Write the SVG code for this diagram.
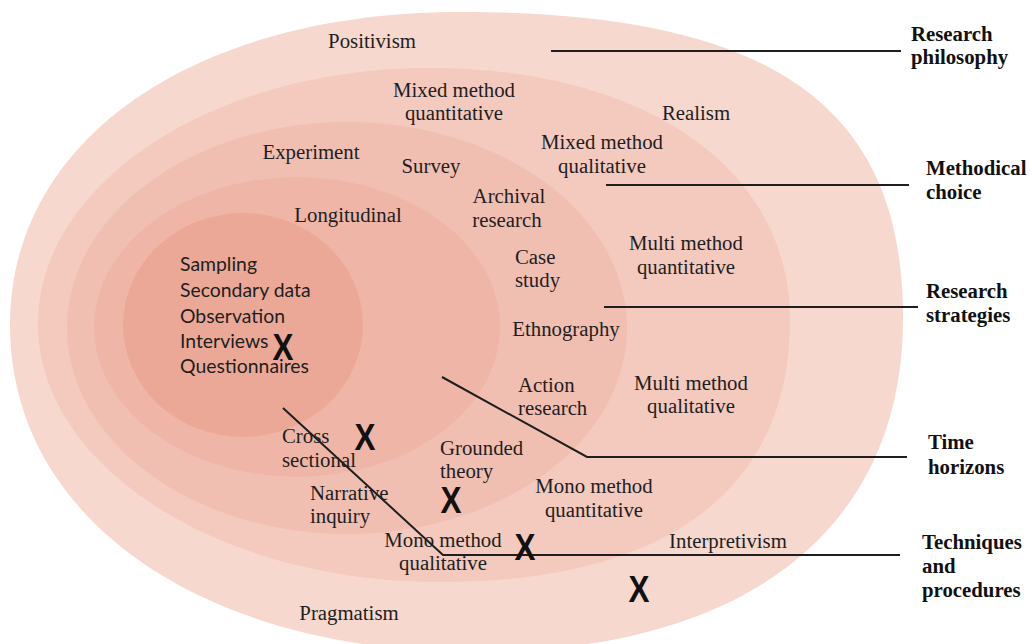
<svg xmlns="http://www.w3.org/2000/svg" width="1032" height="644" viewBox="0 0 1032 644">
<style>
.s{font-family:"Liberation Serif","Times New Roman",serif;font-size:20.8px;fill:#1e1e1e}
.c{text-anchor:middle}
.b{font-family:"Liberation Serif","Times New Roman",serif;font-size:20.8px;font-weight:bold;fill:#111}
.k{font-family:"Lato","Open Sans",sans-serif;font-size:19.4px;fill:#1e1e1e}
.x{font-family:"Liberation Sans",Arial,sans-serif;font-size:37px;font-weight:bold;fill:#111;text-anchor:middle}
.ln{fill:none;stroke:#1e1e1e;stroke-width:2}
</style>
<rect width="1032" height="644" fill="#ffffff"/>
<g id="layers">
<path id="philosophy" fill="#F6D8CE" d="M10,325 C10,136 199,12 460,12 C770,12 903,104 903,318 C903,530 745,652 475,652 C205,652 10,521 10,325 Z"/>
<path id="choice" fill="#F4C9BE" d="M38,324 C38,183 213,68 430,68 C646,68 790,169 790,320 C790,490 667,582 440,582 C218,582 38,466 38,324 Z"/>
<ellipse id="strategies" cx="347" cy="328" rx="280" ry="206" fill="#F1BFB2"/>
<ellipse id="horizons" cx="297" cy="327" rx="203" ry="150" fill="#EFB6A8"/>
<ellipse id="techniques" cx="243" cy="325" rx="120" ry="112" fill="#ECA897"/>
</g>
<g id="connectors">
<line class="ln" x1="551" y1="51" x2="901" y2="51"/>
<line class="ln" x1="606" y1="185" x2="909" y2="185"/>
<line class="ln" x1="604" y1="307" x2="918" y2="307"/>
<polyline class="ln" points="442,377 587,457 907,457"/>
<polyline class="ln" points="283,408 443,555 900,555"/>
</g>
<g id="philosophy-labels">
<text class="s c" x="372" y="48">Positivism</text>
<text class="s c" x="696" y="120">Realism</text>
<text class="s c" x="728" y="548">Interpretivism</text>
<text class="s c" x="349" y="620">Pragmatism</text>
</g>
<g id="choice-labels">
<text class="s c" x="454" y="97">Mixed method</text>
<text class="s c" x="454" y="120">quantitative</text>
<text class="s c" x="602" y="149">Mixed method</text>
<text class="s c" x="602" y="173">qualitative</text>
<text class="s c" x="686" y="250">Multi method</text>
<text class="s c" x="686" y="274">quantitative</text>
<text class="s c" x="691" y="390">Multi method</text>
<text class="s c" x="691" y="413">qualitative</text>
<text class="s c" x="594" y="493">Mono method</text>
<text class="s c" x="594" y="517">quantitative</text>
<text class="s c" x="443" y="547">Mono method</text>
<text class="s c" x="443" y="570">qualitative</text>
</g>
<g id="strategies-labels">
<text class="s c" x="311" y="159">Experiment</text>
<text class="s c" x="431" y="173">Survey</text>
<text class="s c" x="509" y="203">Archival</text>
<text class="s c" x="507" y="227">research</text>
<text class="s" x="515" y="264">Case</text>
<text class="s" x="515" y="287">study</text>
<text class="s c" x="566" y="336">Ethnography</text>
<text class="s" x="518" y="392">Action</text>
<text class="s" x="518" y="415">research</text>
<text class="s" x="440" y="455">Grounded</text>
<text class="s" x="440" y="478">theory</text>
<text class="s" x="310" y="500">Narrative</text>
<text class="s" x="310" y="523">inquiry</text>
</g>
<g id="horizons-labels">
<text class="s c" x="348" y="222">Longitudinal</text>
<text class="s" x="282" y="443">Cross</text>
<text class="s" x="282" y="467">sectional</text>
</g>
<g id="techniques-labels">
<text class="k" x="180" y="271">Sampling</text>
<text class="k" x="180" y="297">Secondary data</text>
<text class="k" x="180" y="323">Observation</text>
<text class="k" x="180" y="348">Interviews</text>
<text class="k" x="180" y="373">Questionnaires</text>
</g>
<g id="marks">
<text class="x" transform="translate(283,360) scale(0.85,1)">X</text>
<text class="x" transform="translate(365,450) scale(0.85,1)">X</text>
<text class="x" transform="translate(451,513) scale(0.85,1)">X</text>
<text class="x" transform="translate(525,560) scale(0.85,1)">X</text>
<text class="x" transform="translate(639,602) scale(0.85,1)">X</text>
</g>
<g id="layer-names">
<text class="b" x="911" y="41">Research</text>
<text class="b" x="911" y="64">philosophy</text>
<text class="b" x="926" y="175">Methodical</text>
<text class="b" x="926" y="199">choice</text>
<text class="b" x="926" y="298">Research</text>
<text class="b" x="926" y="322">strategies</text>
<text class="b" x="928" y="449">Time</text>
<text class="b" x="928" y="474">horizons</text>
<text class="b" x="922" y="549">Techniques</text>
<text class="b" x="922" y="573">and</text>
<text class="b" x="922" y="597">procedures</text>
</g>
</svg>
